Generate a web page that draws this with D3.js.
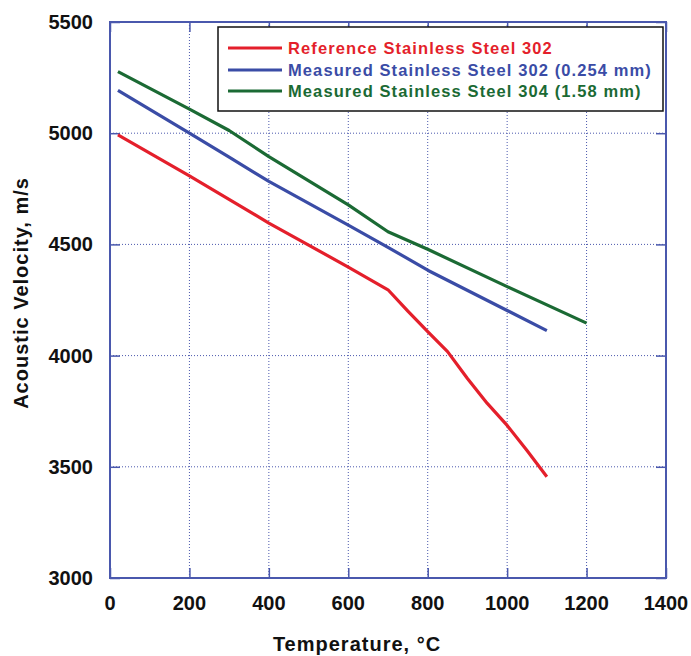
<!DOCTYPE html>
<html>
<head>
<meta charset="utf-8">
<script src="https://cdn.jsdelivr.net/npm/d3@7"></script>
<style>
  body { margin: 0; background: #fff; }
  text { font-family: "Liberation Sans", Arial, sans-serif; font-weight: bold; }
</style>
</head>
<body>
<svg id="chart" width="691" height="656"></svg>
<script>
"use strict";

// series: [temperature C, velocity m/s]
const ref302 = [
    [20, 4992], [200, 4808], [400, 4596], [600, 4398], [700, 4296],
    [750, 4200], [800, 4108], [850, 4018], [900, 3897], [950, 3785],
    [1000, 3686], [1050, 3573], [1100, 3455]
];
const meas302 = [
    [20, 5193], [200, 5000], [300, 4892], [400, 4783], [600, 4587],
    [700, 4487], [800, 4384], [1000, 4203], [1100, 4112]
];
const meas304 = [
    [20, 5277], [200, 5108], [300, 5012], [400, 4895], [600, 4678],
    [700, 4557], [800, 4478], [1000, 4310], [1200, 4146]
];

const x_ticks = [0, 200, 400, 600, 800, 1000, 1200, 1400];
const y_ticks = [3000, 3500, 4000, 4500, 5000, 5500];

const series_names = [
    "Reference Stainless Steel 302",
    "Measured Stainless Steel 302 (0.254 mm)",
    "Measured Stainless Steel 304 (1.58 mm)"
];
const series_colors = ["#e41f2b", "#3a4ca6", "#1b6a34"];

const frame_color = "#4a58ad";
const plot_left = 110, plot_right = 666, plot_top = 22, plot_bottom = 578;
const tick_len = 10;

const svg = d3.select("#chart");

const x = d3.scaleLinear().domain([0, 1400]).range([plot_left, plot_right]);
const y = d3.scaleLinear().domain([3000, 5500]).range([plot_bottom, plot_top]);

// dotted grid
svg.append("g").selectAll("line")
    .data(x_ticks.slice(1, -1))
    .enter().append("line")
    .attr("x1", d => x(d)).attr("x2", d => x(d))
    .attr("y1", plot_top).attr("y2", plot_bottom)
    .attr("stroke", frame_color).attr("stroke-width", 1)
    .attr("stroke-dasharray", "1,2");

svg.append("g").selectAll("line")
    .data(y_ticks.slice(1, -1))
    .enter().append("line")
    .attr("x1", plot_left).attr("x2", plot_right)
    .attr("y1", d => y(d)).attr("y2", d => y(d))
    .attr("stroke", frame_color).attr("stroke-width", 1)
    .attr("stroke-dasharray", "1,2");

// axes with inward ticks on all four sides
function styleAxis(g) {
    g.select(".domain").remove();
    g.selectAll(".tick line").attr("stroke", frame_color).attr("stroke-width", 1.5);
    g.selectAll(".tick text").remove();
}

svg.append("g").attr("transform", `translate(0,${plot_bottom})`)
    .call(d3.axisBottom(x).tickValues(x_ticks).tickSize(-tick_len)).call(styleAxis);
svg.append("g").attr("transform", `translate(0,${plot_top})`)
    .call(d3.axisTop(x).tickValues(x_ticks).tickSize(-tick_len)).call(styleAxis);
svg.append("g").attr("transform", `translate(${plot_left},0)`)
    .call(d3.axisLeft(y).tickValues(y_ticks).tickSize(-tick_len)).call(styleAxis);
svg.append("g").attr("transform", `translate(${plot_right},0)`)
    .call(d3.axisRight(y).tickValues(y_ticks).tickSize(-tick_len)).call(styleAxis);

svg.append("rect")
    .attr("x", plot_left).attr("y", plot_top)
    .attr("width", plot_right - plot_left).attr("height", plot_bottom - plot_top)
    .attr("fill", "none").attr("stroke", frame_color).attr("stroke-width", 2);

// tick labels
svg.append("g").selectAll("text")
    .data(x_ticks)
    .enter().append("text")
    .attr("x", d => x(d)).attr("y", 610)
    .attr("text-anchor", "middle")
    .attr("font-size", 20)
    .attr("fill", "#111")
    .text(d => d);

svg.append("g").selectAll("text")
    .data(y_ticks)
    .enter().append("text")
    .attr("x", 93).attr("y", d => y(d) + 7)
    .attr("text-anchor", "end")
    .attr("font-size", 20)
    .attr("fill", "#111")
    .text(d => d);

// axis titles
svg.append("text")
    .attr("x", 357).attr("y", 651)
    .attr("text-anchor", "middle")
    .attr("font-size", 20)
    .attr("letter-spacing", 1)
    .attr("fill", "#111")
    .text("Temperature, °C");

svg.append("text")
    .attr("transform", "translate(28,293) rotate(-90)")
    .attr("text-anchor", "middle")
    .attr("font-size", 20)
    .attr("letter-spacing", 1)
    .attr("fill", "#111")
    .text("Acoustic Velocity, m/s");

// lines
const line = d3.line().x(d => x(d[0])).y(d => y(d[1]));
[ref302, meas302, meas304].forEach((s, i) => {
    svg.append("path")
        .datum(s)
        .attr("d", line)
        .attr("fill", "none")
        .attr("stroke", series_colors[i])
        .attr("stroke-width", 3.2)
        .attr("stroke-linejoin", "round");
});

// legend
const legend = svg.append("g");
legend.append("rect")
    .attr("x", 218).attr("y", 27)
    .attr("width", 445).attr("height", 84)
    .attr("fill", "#fff").attr("stroke", "#111").attr("stroke-width", 1.5);

const legend_rows = [48, 70, 91];
series_names.forEach((name, i) => {
    legend.append("line")
        .attr("x1", 228).attr("x2", 282)
        .attr("y1", legend_rows[i]).attr("y2", legend_rows[i])
        .attr("stroke", series_colors[i]).attr("stroke-width", 3);
    legend.append("text")
        .attr("x", 288).attr("y", legend_rows[i] + 6)
        .attr("font-size", 16.5)
        .attr("letter-spacing", 1.1)
        .attr("fill", series_colors[i])
        .text(name);
});
</script>
</body>
</html>
